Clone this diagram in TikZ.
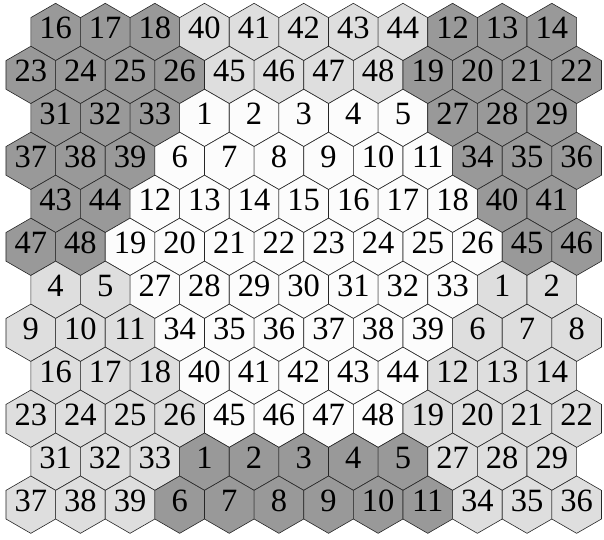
\documentclass[tikz,border=0pt]{standalone}
\usepackage{fontspec}
\setmainfont{Liberation Serif}
\definecolor{dk}{RGB}{153,153,153}
\definecolor{lt}{RGB}{222,222,222}
\definecolor{wt}{RGB}{252,252,252}
\tikzset{
  hexedge/.style={draw=black!85,line width=0.6pt,line join=miter},
  lab/.style={font=\fontsize{32.5}{32.5}\selectfont,inner sep=0pt}
}
\begin{document}
\begin{tikzpicture}[x=1pt,y=1pt]
\useasboundingbox (0,0) rectangle (604,-539);
\def\s{28.65}
\def\w{49.62}
\foreach \r/\row in {
 0/{16/dk,17/dk,18/dk,40/lt,41/lt,42/lt,43/lt,44/lt,12/dk,13/dk,14/dk},
 1/{23/dk,24/dk,25/dk,26/dk,45/lt,46/lt,47/lt,48/lt,19/dk,20/dk,21/dk,22/dk},
 2/{31/dk,32/dk,33/dk,1/wt,2/wt,3/wt,4/wt,5/wt,27/dk,28/dk,29/dk},
 3/{37/dk,38/dk,39/dk,6/wt,7/wt,8/wt,9/wt,10/wt,11/wt,34/dk,35/dk,36/dk},
 4/{43/dk,44/dk,12/wt,13/wt,14/wt,15/wt,16/wt,17/wt,18/wt,40/dk,41/dk},
 5/{47/dk,48/dk,19/wt,20/wt,21/wt,22/wt,23/wt,24/wt,25/wt,26/wt,45/dk,46/dk},
 6/{4/lt,5/lt,27/wt,28/wt,29/wt,30/wt,31/wt,32/wt,33/wt,1/lt,2/lt},
 7/{9/lt,10/lt,11/lt,34/wt,35/wt,36/wt,37/wt,38/wt,39/wt,6/lt,7/lt,8/lt},
 8/{16/lt,17/lt,18/lt,40/wt,41/wt,42/wt,43/wt,44/wt,12/lt,13/lt,14/lt},
 9/{23/lt,24/lt,25/lt,26/lt,45/wt,46/wt,47/wt,48/wt,19/lt,20/lt,21/lt,22/lt},
 10/{31/lt,32/lt,33/lt,1/dk,2/dk,3/dk,4/dk,5/dk,27/lt,28/lt,29/lt},
 11/{37/lt,38/lt,39/lt,6/dk,7/dk,8/dk,9/dk,10/dk,11/dk,34/lt,35/lt,36/lt}} {
  \pgfmathsetmacro\yc{-(31.95+\r*42.975)}
  \pgfmathsetmacro\xo{mod(\r,2)==0 ? 55.62 : 30.81}
  \foreach \n/\c [count=\i from 0] in \row {
    \pgfmathsetmacro\xc{\xo+\i*\w}
    \draw[hexedge,fill=\c] (\xc,\yc) +(30:\s pt) -- +(90:\s pt) -- +(150:\s pt)
      -- +(210:\s pt) -- +(270:\s pt) -- +(330:\s pt) -- cycle;
    \node[lab] (h\r-\i) at (\xc,\yc+4) {\n};
  }
}
\end{tikzpicture}
\end{document}
